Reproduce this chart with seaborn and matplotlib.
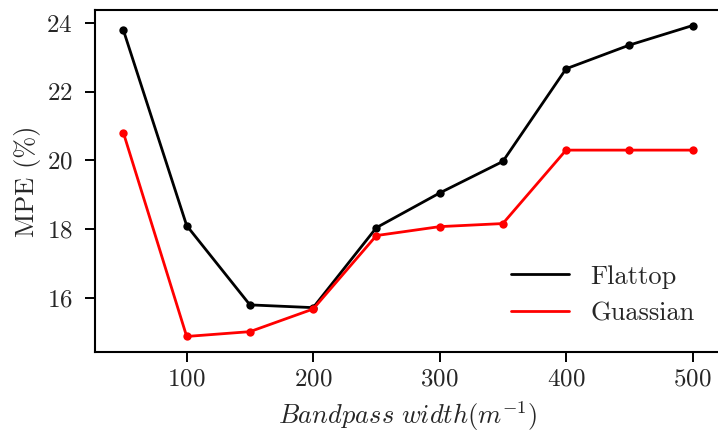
import matplotlib
matplotlib.use("Agg")
import matplotlib.pyplot as plt
from matplotlib.lines import Line2D
import seaborn as sns
import pandas as pd

bandwidth = [50, 100, 150, 200, 250, 300, 350, 400, 450, 500]
flattop = [23.79, 18.10, 15.79, 15.71, 18.04, 19.05, 19.97, 22.67, 23.36, 23.93]
gaussian = [20.80, 14.87, 15.01, 15.67, 17.81, 18.07, 18.16, 20.30, 20.30, 20.30]
series_names = ["Flattop", "Guassian"]
colors = ["black", "red"]

sns.set_style("ticks")
plt.rcParams["font.family"] = ["serif"]
plt.rcParams["font.serif"] = ["cmr10"]
plt.rcParams["mathtext.fontset"] = "cm"
plt.rcParams["axes.formatter.use_mathtext"] = True

df = pd.DataFrame({
    "x": bandwidth * 2,
    "y": flattop + gaussian,
    "series": [series_names[0]] * len(bandwidth) + [series_names[1]] * len(bandwidth),
})

fig = plt.figure(figsize=(7.18, 4.33), dpi=100)
ax = fig.add_axes([95 / 718, (433 - 352) / 433, (721 - 95) / 718, (352 - 10) / 433])

sns.lineplot(data=df, x="x", y="y", hue="series", palette=colors, marker="o",
             markersize=6, markeredgewidth=0, linewidth=2.0, ax=ax, legend=False)

ax.set_xticks([100, 200, 300, 400, 500])
ax.set_yticks([16, 18, 20, 22, 24])
ax.tick_params(axis="both", labelsize=18, width=1.4, length=7, color="black", direction="out")
ax.tick_params(axis="y", pad=9)
ax.tick_params(axis="x", pad=5)
for s in ax.spines.values():
    s.set_linewidth(1.5)
    s.set_color("black")

ax.set_xlabel(r"$Bandpass\ width(m^{-1})$", fontsize=19, labelpad=6)
ax.set_ylabel("MPE (%)", fontsize=19, labelpad=4)

handles = [Line2D([0], [0], color=c, lw=2.0) for c in colors]
ax.legend(handles, series_names, loc="lower right", frameon=False, fontsize=19,
          handlelength=2.2, borderaxespad=0.6)

fig.savefig("out.png", dpi=100)
